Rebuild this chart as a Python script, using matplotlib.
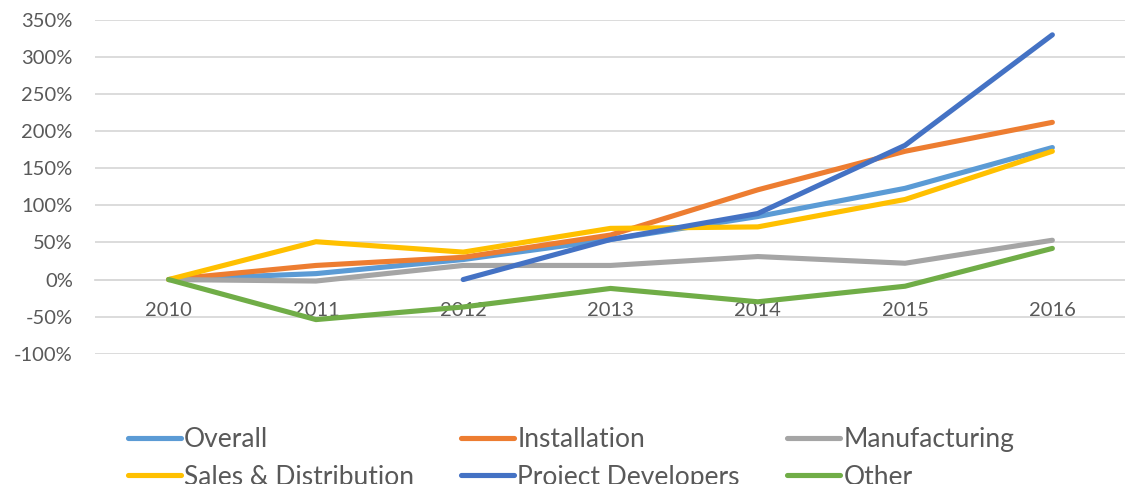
import matplotlib
matplotlib.use("Agg")
import matplotlib.pyplot as plt
from matplotlib.ticker import FuncFormatter

years = ["2010", "2011", "2012", "2013", "2014", "2015", "2016"]

overall = [0, 8, 27, 54, 85, 123, 178]
installation = [0, 19, 30, 60, 121, 173, 212]
manufacturing = [0, -2, 19, 19, 31, 22, 53]
sales = [0, 51, 37, 69, 71, 108, 173]
project_dev = [None, None, 0, 54, 89, 181, 330]
other = [0, -54, -37, -12, -30, -9, 42]

series = [
	("Overall", overall, "#5B9BD5"),
	("Installation", installation, "#ED7D31"),
	("Manufacturing", manufacturing, "#A5A5A5"),
	("Sales & Distribution", sales, "#FFC000"),
	("Project Developers", project_dev, "#4472C4"),
	("Other", other, "#70AD47"),
]

plt.rcParams['font.family'] = ['Lato', 'DejaVu Sans']
txt = "#595959"

fig = plt.figure(figsize=(11.25, 4.84), dpi=100)
ax = fig.add_axes([95/1125, 130.3/484, 1031/1125, 333.7/484])

x = list(range(len(years)))
handles = {}
for name, vals, col in series:
	xs = [i for i, v in zip(x, vals) if v is not None]
	ys = [v for v in vals if v is not None]
	h, = ax.plot(xs, ys, color=col, lw=3.7, solid_capstyle='round',
				 solid_joinstyle='round', label=name, zorder=3)
	handles[name] = h

ax.set_xlim(-0.5, 6.5)
ax.set_ylim(-100, 350)
ax.set_yticks(range(-100, 351, 50))
ax.yaxis.set_major_formatter(FuncFormatter(lambda v, p: f"{int(v)}%"))
ax.grid(axis='y', color="#D9D9D9", lw=1.3, zorder=0)
ax.set_axisbelow(True)

for s in ['top', 'right', 'left']:
	ax.spines[s].set_visible(False)
ax.spines['bottom'].set_position(('data', 0))
ax.spines['bottom'].set_color("#D9D9D9")
ax.spines['bottom'].set_linewidth(1.3)

ax.set_xticks(x)
ax.set_xticklabels(years)
ax.tick_params(axis='x', length=0, pad=16, labelsize=14.5, labelcolor=txt)
ax.tick_params(axis='y', length=0, pad=16, labelsize=14.5, labelcolor=txt)

order = ["Overall", "Sales & Distribution", "Installation",
		 "Project Developers", "Manufacturing", "Other"]
leg = fig.legend([handles[n] for n in order], order, ncol=3,
				 loc='upper left', bbox_to_anchor=(128/1125, 1 - 427/484),
				 frameon=False, fontsize=19, handlelength=2.0,
				 handletextpad=0.12, columnspacing=1.8, labelspacing=0.48,
				 borderpad=0, borderaxespad=0)
for t in leg.get_texts():
	t.set_color(txt)

fig.savefig("out.png", dpi=100)
